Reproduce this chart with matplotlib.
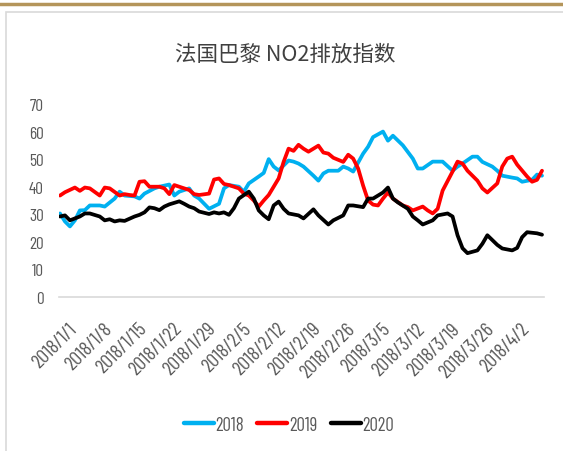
import matplotlib
matplotlib.use('Agg')
import matplotlib.pyplot as plt
import matplotlib.transforms as mtransforms
from matplotlib.lines import Line2D
from matplotlib.patches import Rectangle
import datetime as dt

narrow = ['Barlow Condensed', 'PT Sans Narrow', 'Noto Sans CJK SC', 'DejaVu Sans']
plt.rcParams['font.family'] = narrow

# ---- data, x = days since 2018/1/1 ----
title = '法国巴黎 NO2排放指数'
start = dt.date(2018, 1, 1)
tick_days = list(range(0, 92, 7))
tick_labels = []
for d in tick_days:
    t = start + dt.timedelta(days=d)
    tick_labels.append('2018/%d/%d' % (t.month, t.day))

days_2018 = [0, 1, 2, 3, 4, 5, 6, 8, 9, 11, 12, 13, 15, 16, 17, 19, 20, 22, 23, 24, 26, 27, 28, 30, 32,
             33, 34, 36, 37, 38, 40, 41, 42, 43, 44, 46, 47, 48, 49, 51, 52, 53, 54, 56, 57, 58, 59, 61,
             62, 63, 65, 66, 67, 69, 71, 72, 73, 75, 77, 79, 80, 81, 83, 84, 85, 87, 88, 89, 91, 92, 93,
             95, 96, 97]
vals_2018 = [30.3, 27.4, 25.6, 27.8, 31.4, 31.5, 33.2, 33.2, 32.8, 35.7, 38.2, 36.8, 36.5, 35.7, 37.5, 39.4,
             40.0, 40.8, 36.8, 38.2, 39.4, 36.8, 35.7, 32.0, 33.8, 39.4, 40.6, 40.0, 38.2, 41.2, 43.7, 45.0,
             50.0, 47.3, 45.9, 49.5, 49.1, 48.4, 47.3, 44.0, 42.2, 44.8, 45.8, 45.8, 47.3, 46.6, 45.5, 52.0,
             54.5, 58.0, 60.0, 56.7, 58.5, 55.0, 50.2, 46.6, 46.6, 49.1, 49.1, 45.8, 47.3, 48.4, 50.9, 50.9,
             49.0, 47.3, 45.8, 44.0, 43.3, 43.0, 41.8, 42.5, 44.4, 44.0]

days_2019 = [0, 1, 3, 4, 5, 6, 8, 9, 10, 12, 13, 14, 15, 16, 17, 18, 20, 21, 22, 23, 24, 26, 27, 28, 30,
             31, 32, 33, 34, 36, 37, 38, 39, 40, 41, 42, 43, 44, 45, 46, 47, 48, 49, 50, 52, 53, 54, 55,
             57, 58, 59, 60, 61, 62, 63, 64, 65, 66, 67, 69, 70, 71, 73, 74, 75, 76, 77, 79, 80, 81, 82,
             84, 85, 86, 88, 89, 90, 91, 92, 94, 95, 96, 97]
vals_2019 = [36.8, 38.0, 39.7, 38.5, 39.7, 39.4, 36.8, 39.7, 39.4, 36.8, 37.3, 37.0, 36.8, 41.8, 42.0, 40.0,
             40.0, 39.4, 37.3, 40.6, 40.0, 38.8, 37.3, 37.0, 37.5, 42.6, 43.0, 41.0, 40.6, 39.4, 37.5, 36.8,
             35.0, 32.8, 35.0, 37.0, 40.0, 43.0, 49.0, 53.8, 53.0, 55.2, 53.8, 52.7, 54.9, 52.4, 52.0, 50.5,
             49.0, 51.6, 50.2, 46.6, 40.4, 35.0, 33.5, 33.2, 35.7, 37.9, 35.7, 33.2, 32.6, 31.4, 32.8, 31.4,
             30.3, 32.0, 38.6, 45.5, 49.1, 48.4, 45.8, 42.2, 39.4, 37.9, 41.2, 47.3, 50.2, 50.9, 48.0, 43.7,
             41.8, 42.5, 45.8]

days_2020 = [0, 1, 2, 4, 5, 6, 8, 9, 10, 11, 12, 13, 15, 16, 17, 18, 19, 20, 21, 22, 24, 25, 26, 27, 28,
             30, 31, 32, 33, 34, 35, 36, 38, 39, 40, 41, 42, 43, 44, 45, 46, 48, 49, 51, 52, 54, 55, 57,
             58, 59, 61, 62, 63, 65, 66, 67, 68, 70, 71, 72, 73, 75, 76, 78, 79, 80, 81, 82, 84, 85, 86,
             88, 89, 91, 92, 93, 94, 96, 97]
vals_2020 = [29.2, 29.6, 27.8, 29.2, 30.3, 30.3, 29.2, 27.8, 28.2, 27.4, 27.8, 27.6, 29.2, 29.8, 30.7, 32.5,
             32.2, 31.5, 32.8, 33.6, 34.7, 33.8, 32.8, 32.2, 31.0, 30.1, 30.7, 30.3, 30.7, 29.8, 32.2, 35.7,
             38.2, 35.7, 31.4, 29.6, 28.2, 33.2, 34.6, 32.0, 30.3, 29.6, 28.5, 31.8, 29.6, 26.3, 27.8, 29.6,
             33.2, 33.2, 32.6, 35.7, 35.7, 37.9, 39.7, 35.7, 34.3, 32.0, 29.2, 27.8, 26.3, 27.8, 29.6, 30.3,
             29.2, 22.4, 17.7, 15.9, 16.9, 19.3, 22.4, 18.9, 17.6, 16.9, 17.8, 21.7, 23.5, 23.1, 22.6]

series = [('2018', days_2018, vals_2018, '#00B0F0'),
          ('2019', days_2019, vals_2019, '#FF0000'),
          ('2020', days_2020, vals_2020, '#000000')]

# ---- figure ----
fig = plt.figure(figsize=(5.63, 4.52), dpi=100)
fig.add_artist(Line2D([0, 1], [1 - 5 / 452, 1 - 5 / 452], color='#B4955A', lw=2.5))
fig.add_artist(Rectangle((6 / 563, -0.1), 1.0, 1.1 - 13 / 452, fill=False, edgecolor='#D9D9D9', lw=1.2))

ax = fig.add_axes([59 / 563, 1 - 298 / 452, (544 - 59) / 563, (298 - 105) / 452])
for name, d, v, c in series:
    ax.plot(d, v, color=c, lw=2.7, label=name, solid_joinstyle='round', solid_capstyle='round')

ax.set_ylim(0, 70)
ax.set_xlim(-0.2, 97.4)
ax.set_yticks(range(0, 71, 10))
ax.set_xticks(tick_days)
ax.set_xticklabels(tick_labels, rotation=45, ha='right', va='top', rotation_mode='anchor', fontsize=14.5)
ax.tick_params(axis='both', length=0, colors='#595959')
ax.tick_params(axis='y', pad=11, labelsize=12.5)
ax.tick_params(axis='x', pad=16)
# x labels sit a bit right of their ticks
shift = mtransforms.ScaledTranslation(8 / 100, 0, fig.dpi_scale_trans)
for lab in ax.get_xticklabels():
    lab.set_transform(lab.get_transform() + shift)
for s in ['top', 'right', 'left']:
    ax.spines[s].set_visible(False)
ax.spines['bottom'].set_color('#D9D9D9')
ax.spines['bottom'].set_linewidth(1.2)

fig.text(285 / 563, 1 - 55 / 452, title, ha='center', va='center', fontsize=15.5, color='#404040',
         family=['Noto Sans CJK SC', 'DejaVu Sans'])

leg = fig.legend(loc='center', bbox_to_anchor=(289 / 563, 1 - 426 / 452), ncol=3, frameon=False,
                 fontsize=13.5, handlelength=1.6, columnspacing=0.7, handletextpad=0.1)
for t in leg.get_texts():
    t.set_color('#595959')
for l in leg.get_lines():
    l.set_linewidth(3.2)

fig.savefig('out.png', dpi=100)
